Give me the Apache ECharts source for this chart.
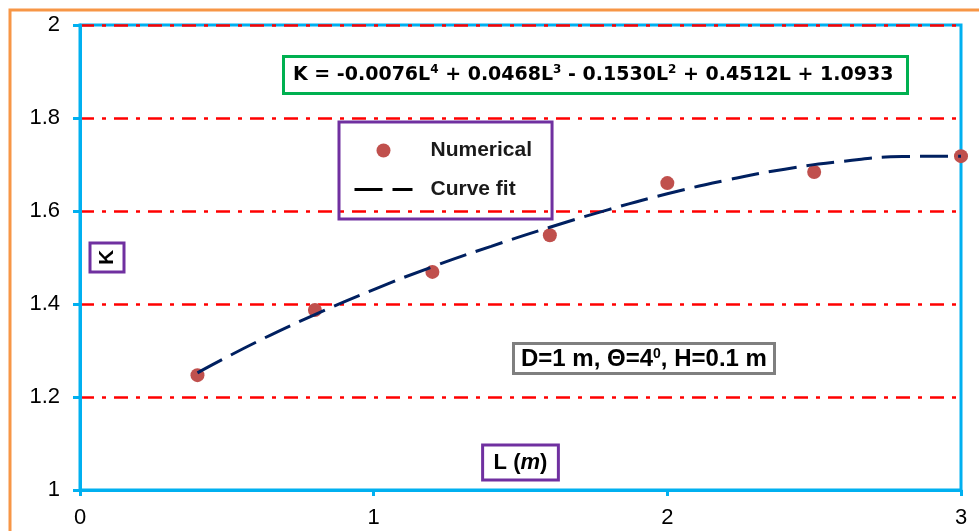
<!DOCTYPE html>
<html>
<head>
<meta charset="utf-8">
<script src="https://cdn.jsdelivr.net/npm/echarts@6/dist/echarts.min.js"></script>
<style>
html,body{margin:0;padding:0;background:#fff;}
#chart{width:979px;height:531px;}
</style>
</head>
<body>
<div id="chart"></div>
<script>
// Data
const L_num = [0.4, 0.8, 1.2, 1.6, 2.0, 2.5, 3.0];
const K_num = [1.247, 1.387, 1.469, 1.548, 1.660, 1.684, 1.718];

const L_fit = [0.4, 0.6, 0.8, 1.0, 1.2, 1.4, 1.6, 1.8, 2.0, 2.2, 2.4, 2.6, 2.8, 3.0];
const K_fit = [1.252, 1.318, 1.377, 1.431, 1.480, 1.524, 1.565, 1.603, 1.637, 1.666, 1.690, 1.707, 1.717, 1.718];

const xTickLabels = ['0', '1', '2', '3'];
const yTickLabels = ['1', '1.2', '1.4', '1.6', '1.8', '2'];

const seriesNames = ['Numerical', 'Curve fit'];
const equationText = '{b|K = -0.0076L}{s|4}{b| + 0.0468L}{s|3}{b| - 0.1530L}{s|2}{b| + 0.4512L + 1.0933}';
const caseText = '{b|D=1 m, Θ=4}{s|0}{b|, H=0.1 m}';

const chart = echarts.init(document.getElementById('chart'));
const FONT = '"Liberation Sans", Arial, sans-serif';

chart.setOption({
  animation: false,
  backgroundColor: '#ffffff',
  grid: {
    left: 80, right: 18, top: 25, bottom: 41,
    containLabel: false, outerBoundsMode: 'none',
    show: true, borderColor: '#00B0F0', borderWidth: 3, backgroundColor: 'transparent'
  },
  graphic: [{
    type: 'rect', z: -10, silent: true,
    shape: { x: 10, y: 10, width: 1000, height: 560 },
    style: { fill: 'none', stroke: '#F79646', lineWidth: 3 }
  }],
  title: [{
    text: equationText,
    left: 283, top: 56,
    padding: [8, 14, 9, 10],
    borderColor: '#00B050', borderWidth: 3,
    textStyle: {
      rich: {
        b: { fontFamily: '"DejaVu Sans", sans-serif', fontWeight: 'bold', fontSize: 19, color: '#000', lineHeight: 22 },
        s: { fontFamily: '"DejaVu Sans", sans-serif', fontWeight: 'bold', fontSize: 12, color: '#000', lineHeight: 22, verticalAlign: 'top' }
      }
    }
  }, {
    text: caseText,
    left: 513, top: 343,
    padding: [4, 8, 3, 8],
    borderColor: '#7F7F7F', borderWidth: 3,
    textStyle: {
      rich: {
        b: { fontFamily: FONT, fontWeight: 'bold', fontSize: 24, color: '#000', lineHeight: 24 },
        s: { fontFamily: FONT, fontWeight: 'bold', fontSize: 14, color: '#000', lineHeight: 24, verticalAlign: 'top' }
      }
    }
  }],
  legend: {
    data: [seriesNames[0], { name: seriesNames[1], itemStyle: { opacity: 0 }, lineStyle: { color: '#000', width: 3 } }],
    orient: 'vertical',
    left: 339, top: 122,
    padding: [18, 20, 19, 14],
    itemWidth: 58, itemHeight: 14, itemGap: 18,
    borderColor: '#7030A0', borderWidth: 3,
    textStyle: { fontFamily: FONT, fontWeight: 'bold', fontSize: 21, color: '#1a1a1a', padding: [0, 0, 0, 13] }
  },
  xAxis: {
    type: 'value', min: 0, max: 3, interval: 1,
    name: '{b|L (}{i|m}{b|)}',
    nameLocation: 'middle', nameGap: -45, nameMoveOverlap: false,
    nameTextStyle: {
      borderColor: '#7030A0', borderWidth: 3, padding: [6, 11, 5, 11],
      rich: {
        b: { fontFamily: FONT, fontWeight: 'bold', fontSize: 22, color: '#000', lineHeight: 24 },
        i: { fontFamily: FONT, fontWeight: 'bold', fontStyle: 'italic', fontSize: 22, color: '#000', lineHeight: 24 }
      }
    },
    axisLine: { show: true, lineStyle: { color: '#00B0F0', width: 3 } },
    axisTick: { show: true, length: 6, lineStyle: { color: '#00B0F0', width: 3 } },
    axisLabel: {
      fontFamily: FONT, fontSize: 22, color: '#000', margin: 17,
      formatter: (v) => xTickLabels[Math.round(v)]
    },
    splitLine: { show: false }
  },
  yAxis: {
    type: 'value', min: 1, max: 2, interval: 0.2,
    name: 'K',
    nameLocation: 'middle', nameGap: -44, nameMoveOverlap: false,
    nameTextStyle: {
      fontFamily: FONT, fontWeight: 'bold', fontSize: 21, color: '#000',
      borderColor: '#7030A0', borderWidth: 3, padding: [6, 7, 6, 7], lineHeight: 22
    },
    axisLine: { show: true, lineStyle: { color: '#00B0F0', width: 3 } },
    axisTick: { show: true, length: 7, lineStyle: { color: '#00B0F0', width: 3 } },
    axisLabel: {
      fontFamily: FONT, fontSize: 22, color: '#000', margin: 20,
      formatter: (v) => yTickLabels[Math.round((v - 1) / 0.2)]
    },
    splitLine: { show: true, lineStyle: { color: '#FF0000', width: 2.5, type: [14, 8, 4, 8] } }
  },
  series: [{
    name: seriesNames[0],
    type: 'scatter',
    data: L_num.map((x, i) => [x, K_num[i]]),
    symbol: 'circle', symbolSize: 14,
    itemStyle: { color: '#C0504D', opacity: 1 },
    z: 3
  }, {
    name: seriesNames[1],
    type: 'line',
    data: L_fit.map((x, i) => [x, K_fit[i]]),
    smooth: true,
    symbol: 'none',
    lineStyle: { color: '#002060', width: 3, type: [28, 10] },
    itemStyle: { color: '#002060' },
    z: 4
  }]
});
</script>
</body>
</html>
